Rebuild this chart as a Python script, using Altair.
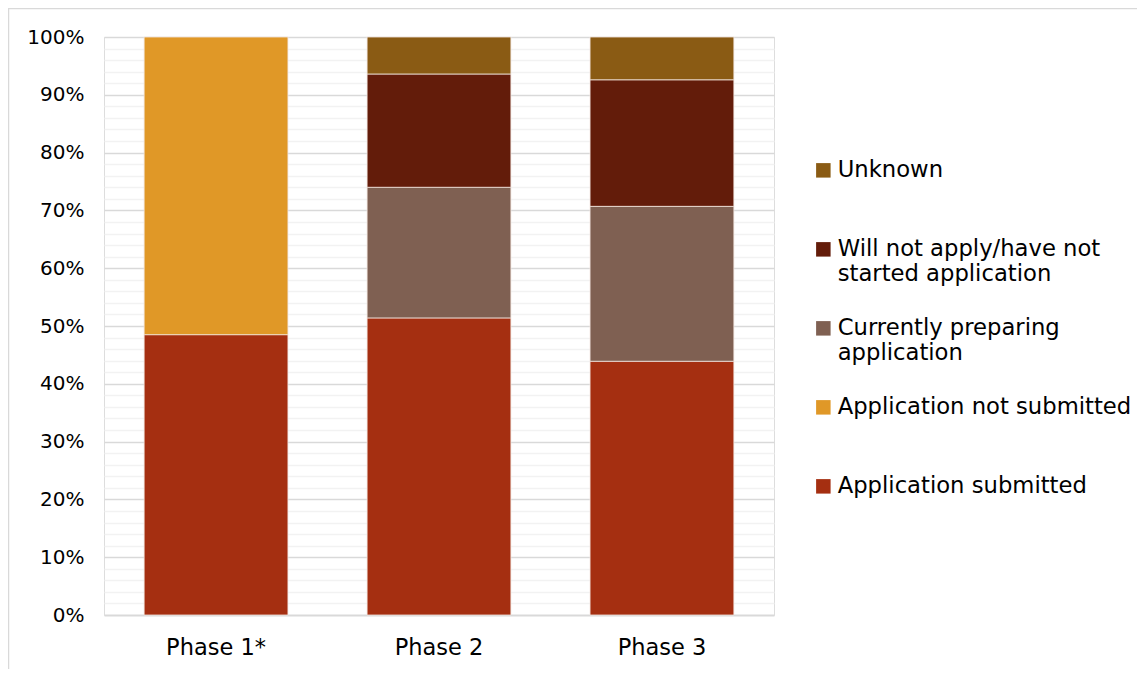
import altair as alt
import pandas as pd

phases = ["Phase 1*", "Phase 2", "Phase 3"]
series = [
    "Application submitted",
    "Application not submitted",
    "Currently preparing application",
    "Will not apply/have not started application",
    "Unknown",
]
values = {
    "Application submitted": [48.5, 51.4, 43.9],
    "Application not submitted": [51.5, 0.0, 0.0],
    "Currently preparing application": [0.0, 22.6, 26.8],
    "Will not apply/have not started application": [0.0, 19.6, 21.9],
    "Unknown": [0.0, 6.4, 7.4],
}
colors = {
    "Application submitted": "#A52F11",
    "Application not submitted": "#E09827",
    "Currently preparing application": "#7F6052",
    "Will not apply/have not started application": "#631C0A",
    "Unknown": "#8A5B14",
}
y_ticks = list(range(0, 101, 2))

rows = []
for si, s in enumerate(series):
    for pi, p in enumerate(phases):
        v = values[s][pi]
        if v > 0:
            rows.append({"phase": p, "series": s, "value": v, "order": si})
df = pd.DataFrame(rows)

legend_order = list(reversed(series))
FONT = "DejaVu Sans"

label_expr = (
    "datum.label == 'Will not apply/have not started application' ? "
    "['Will not apply/have not', 'started application'] : "
    "datum.label == 'Currently preparing application' ? "
    "['Currently preparing', 'application'] : [datum.label, ' ']"
)

bars = alt.Chart(df).mark_bar(stroke="#f3e6e0", strokeWidth=0.8).encode(
    x=alt.X("phase:N", sort=phases, title=None,
            scale=alt.Scale(paddingInner=0.355, paddingOuter=0.18),
            axis=alt.Axis(labelAngle=0, labelFontSize=22.5, labelFont=FONT,
                          labelColor="#000000", labelPadding=21, ticks=False,
                          domain=False, grid=False)),
    y=alt.Y("value:Q", stack=True, title=None,
            scale=alt.Scale(domain=[0, 100], nice=False),
            axis=alt.Axis(values=y_ticks,
                          labelExpr="datum.value % 10 == 0 ? datum.value + '%' : ''",
                          labelFontSize=20, labelFont=FONT, labelColor="#000000",
                          labelPadding=20, ticks=False, domain=False,
                          gridColor={"condition": {"test": "datum.value % 10 == 0", "value": "#d9d9d9"}, "value": "#f2f2f2"},
                          gridWidth={"condition": {"test": "datum.value == 0", "value": 2.2}, "value": 1.4})),
    color=alt.Color("series:N",
                    scale=alt.Scale(domain=legend_order, range=[colors[s] for s in legend_order]),
                    legend=alt.Legend(title=None, orient="none", legendX=708, legendY=122,
                                      symbolType="square", symbolSize=210,
                                      symbolStrokeWidth=0, labelFontSize=22.7,
                                      labelFont=FONT, labelColor="#000000",
                                      labelLimit=420, rowPadding=31, labelOffset=3,
                                      labelExpr=label_expr)),
    order=alt.Order("order:Q", sort="ascending"),
)

border_left = alt.Chart(pd.DataFrame({"a": [0]})).mark_rule(color="#d9d9d9", strokeWidth=2.5).encode(
    x=alt.value(-96), y=alt.value(-29), y2=alt.value(700))
border_top = alt.Chart(pd.DataFrame({"a": [0]})).mark_rule(color="#d9d9d9", strokeWidth=2.5).encode(
    x=alt.value(-96), x2=alt.value(1200), y=alt.value(-29))

chart = alt.layer(bars, border_left, border_top).properties(
    width=670, height=578,
    padding={"left": 96, "top": 29, "right": 363, "bottom": 54},
    autosize=alt.AutoSizeParams(type="none"),
).configure_view(strokeWidth=0, stroke="transparent").configure(background="white")

chart.save("out.html", embed_options={"renderer": "svg", "actions": False})
